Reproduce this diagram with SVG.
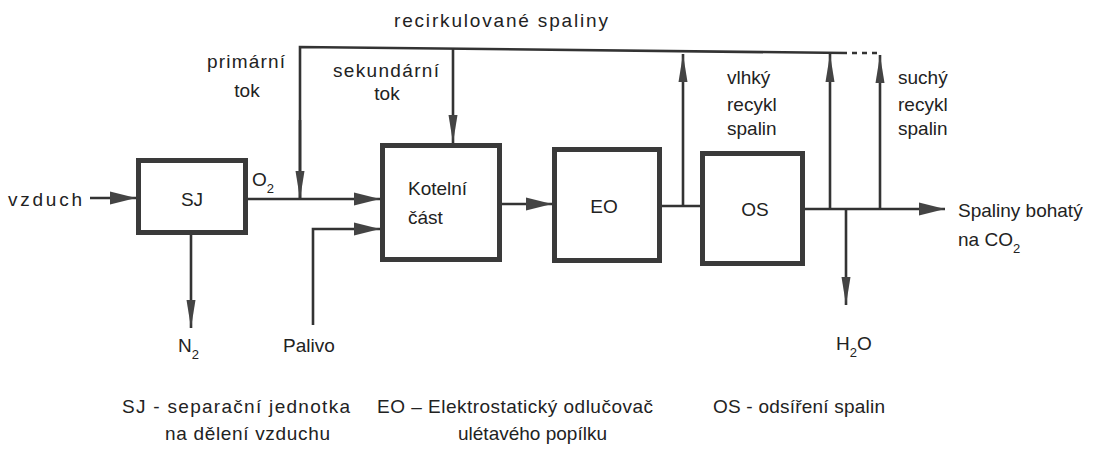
<svg xmlns="http://www.w3.org/2000/svg" width="1114" height="454" viewBox="0 0 1114 454">
<defs>
<style>
text{font-family:"Liberation Sans",Arial,sans-serif;fill:#222;font-size:19px}
.box{fill:#fff;stroke:#3a3a3a;stroke-width:5}
.ln{fill:none;stroke:#333;stroke-width:2.6}
.sub{font-size:13px}
</style>
<marker id="ah" markerUnits="userSpaceOnUse" markerWidth="30" markerHeight="16" viewBox="0 -8 30 16" refX="26" refY="0" orient="auto">
<path d="M0,-6.5 L26,0 L0,6.5 z" fill="#444"/>
</marker>
<marker id="av" markerUnits="userSpaceOnUse" markerWidth="30" markerHeight="12" viewBox="0 -6 30 12" refX="28" refY="0" orient="auto">
<path d="M0,-4.5 L28,0 L0,4.5 z" fill="#444"/>
</marker>
</defs>
<rect width="1114" height="454" fill="#fff"/>

<g id="connectors">
<path class="ln" d="M300,199 V47 L847,53"/>
<path class="ln" d="M852,53 H880" stroke-dasharray="5,5"/>
<path class="ln" d="M300,120 V199" marker-end="url(#av)"/>
<path class="ln" d="M453,48 V143" marker-end="url(#av)"/>
<path class="ln" d="M90,198 H136" marker-end="url(#ah)"/>
<path class="ln" d="M248,199 H380" marker-end="url(#ah)"/>
<path class="ln" d="M313,325 V229 H380" marker-end="url(#ah)"/>
<path class="ln" d="M502,204 H552" marker-end="url(#ah)"/>
<path class="ln" d="M662,206 H700"/>
<path class="ln" d="M683,206 V54" marker-end="url(#av)"/>
<path class="ln" d="M805,209 H945" marker-end="url(#ah)"/>
<path class="ln" d="M830,209 V54" marker-end="url(#av)"/>
<path class="ln" d="M880,209 V55" marker-end="url(#av)"/>
<path class="ln" d="M846,209 V305" marker-end="url(#av)"/>
<path class="ln" d="M191,235 V328" marker-end="url(#av)"/>
</g>

<g id="sj">
<rect class="box" x="138.5" y="160.5" width="107" height="72"/>
<text x="192" y="206" text-anchor="middle" font-size="20">SJ</text>
</g>
<g id="kotel">
<rect class="box" x="382.5" y="145.5" width="117" height="114"/>
<text x="408" y="195">Kotelní</text>
<text x="408" y="224">část</text>
</g>
<g id="eo">
<rect class="box" x="554.5" y="149.5" width="105" height="111"/>
<text x="604" y="213" text-anchor="middle">EO</text>
</g>
<g id="os">
<rect class="box" x="702.5" y="153.5" width="100" height="110"/>
<text x="755" y="216" text-anchor="middle">OS</text>
</g>

<g id="labels">
<text x="394" y="27" font-size="20" textLength="214">recirkulované spaliny</text>
<text x="207" y="68" textLength="78">primární</text>
<text x="247" y="97" text-anchor="middle">tok</text>
<text x="333" y="77" textLength="106">sekundární</text>
<text x="387" y="100" text-anchor="middle">tok</text>
<text x="727" y="84">vlhký</text>
<text x="727" y="111">recykl</text>
<text x="727" y="135">spalin</text>
<text x="898" y="84">suchý</text>
<text x="898" y="111">recykl</text>
<text x="898" y="135">spalin</text>
<text x="8" y="206" font-size="20" textLength="74">vzduch</text>
<text x="252" y="186">O<tspan class="sub" dy="7">2</tspan></text>
<text x="178" y="352">N<tspan class="sub" dy="7">2</tspan></text>
<text x="283" y="352">Palivo</text>
<text x="836" y="350">H<tspan class="sub" dy="7">2</tspan><tspan dy="-7">O</tspan></text>
<text x="958" y="217">Spaliny bohatý</text>
<text x="958" y="246">na CO<tspan class="sub" dy="7">2</tspan></text>
<text x="122" y="413" textLength="228">SJ - separační jednotka</text>
<text x="165" y="440" textLength="165">na dělení vzduchu</text>
<text x="377" y="413" textLength="276">EO – Elektrostatický odlučovač</text>
<text x="458" y="440">ulétavého popílku</text>
<text x="713" y="413" textLength="172">OS - odsíření  spalin</text>
</g>
</svg>
